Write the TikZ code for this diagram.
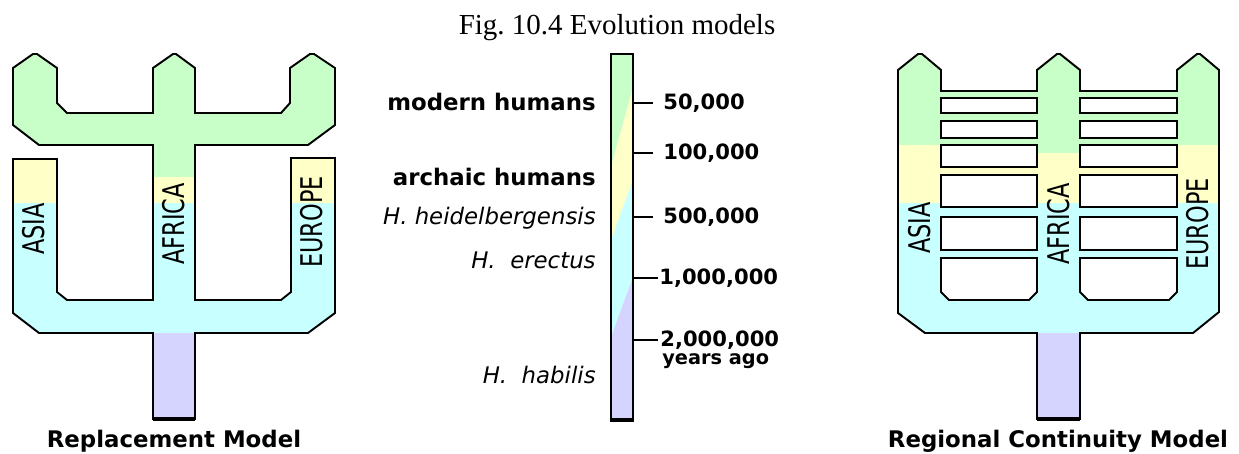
\documentclass[tikz,border=0pt]{standalone}
\usepackage{fontspec}
\usepackage{xcolor}
\usepackage{tikz}
\setmainfont{Liberation Serif}
\newfontfamily\pixfont{DejaVu Sans}
\newfontfamily\regionfont[FakeStretch=0.75]{DejaVu Sans}
\definecolor{eragreen}{RGB}{200, 255, 200}
\definecolor{erayellow}{RGB}{255, 255, 200}
\definecolor{eracyan}{RGB}{200, 255, 255}
\definecolor{eraviolet}{RGB}{212, 212, 255}

\begin{document}
\begin{tikzpicture}[x=0.02cm, y=-0.02cm,
    outline/.style={draw=black, line width=1.1pt, line join=miter},
    hole/.style={fill=white, draw=black, line width=1.1pt},
    region/.style={font=\regionfont\fontsize{17}{17}\selectfont, rotate=90, inner sep=0pt},
    era/.style={font=\pixfont\bfseries\fontsize{13}{13}\selectfont, anchor=east, inner sep=0pt},
    species/.style={font=\pixfont\itshape\fontsize{13}{13}\selectfont, anchor=east, inner sep=0pt},
    years/.style={font=\pixfont\bfseries\fontsize{12}{12}\selectfont, anchor=west, inner sep=0pt},
    modeltitle/.style={font=\pixfont\bfseries\fontsize{13}{13}\selectfont, anchor=base, inner sep=0pt}]
    \useasboundingbox (0,0) rectangle (1239,453);

    % Caption
    \node[font=\fontsize{16.5}{16.5}\selectfont, anchor=base, inner sep=0pt] (caption) at (617,34) {Fig.\ 10.4 Evolution models};

    % Replacement model (one outline, coloured by era)
    \draw[outline, path picture={
        \fill[eragreen] (0,40) rectangle (400,159);
        \fill[erayellow] (0,159) rectangle (400,203);
        \fill[eragreen] (153,145) rectangle (195,177);
        \fill[eracyan] (0,203) rectangle (400,333);
        \fill[eraviolet] (0,333) rectangle (400,425);
    }] (13,68) -- (33,54) -- (37,54) -- (57,68) -- (57,103) -- (67,113) -- (153,113) -- (153,68)
        -- (173,54) -- (176,54) -- (195,68) -- (195,113) -- (281,113) -- (290,103) -- (290,68)
        -- (310,54) -- (314,54) -- (335,68) -- (335,125) -- (308,145) -- (195,145) -- (195,300)
        -- (281,300) -- (291,292) -- (291,158) -- (335,158) -- (335,313) -- (308,333) -- (195,333)
        -- (195,419) -- (153,419) -- (153,333) -- (39,333) -- (13,313) -- (13,159) -- (57,159)
        -- (57,292) -- (67,300) -- (153,300) -- (153,145) -- (39,145) -- (13,125) -- cycle;
    \draw[line width=2pt] (153,419) -- (195,419);

    \node[region] (asiaL) at (34,229) {ASIA};
    \node[region] (africaL) at (174,224) {AFRICA};
    \node[region] (europeL) at (312,222) {EUROPE};
    \node[modeltitle] (replTitle) at (174,447) {Replacement Model};

    % Time scale
    \fill[eragreen] (611,54) -- (633,54) -- (633,88) -- (611,167) -- cycle;
    \fill[erayellow] (611,167) -- (633,88) -- (633,180) -- (611,240) -- cycle;
    \fill[eracyan] (611,240) -- (633,180) -- (633,277) -- (611,337) -- cycle;
    \fill[eraviolet] (611,337) -- (633,277) -- (633,419) -- (611,419) -- cycle;
    \node[draw, line width=1.1pt, minimum width=0.44cm, minimum height=7.3cm, inner sep=0pt] (bar) at (622,236.5) {};
    \draw[line width=2pt] (bar.south west) -- (bar.south east);

    \node[era] (modern) at (596,102) {modern humans};
    \node[era] (archaic) at (596,177) {archaic humans};
    \node[species] (heidel) at (596,218) {H. heidelbergensis};
    \node[species] (erectus) at (596,260) {H.\ \ erectus};
    \node[species] (habilis) at (596,375) {H.\ \ habilis};

    \node[years] (t50k) at (663,103) {50,000};
    \node[years] (t100k) at (663,153) {100,000};
    \node[years] (t500k) at (663,217) {500,000};
    \node[years] (t1m) at (659,278) {1,000,000};
    \node[years] (t2m) at (660,340) {2,000,000};
    \node[years, font=\pixfont\bfseries\fontsize{11}{11}\selectfont] (ago) at (662,361) {years ago};

    \draw[line width=1.1pt] (bar.east |- t50k.west) -- ([xshift=-0.2cm]t50k.west);
    \draw[line width=1.1pt] (bar.east |- t100k.west) -- ([xshift=-0.2cm]t100k.west);
    \draw[line width=1.1pt] (bar.east |- t500k.west) -- ([xshift=-0.2cm]t500k.west);
    \draw[line width=1.6pt] (bar.east |- t1m.west) -- ([xshift=-0.02cm]t1m.west);
    \draw[line width=1.1pt] (bar.east |- t2m.west) -- ([xshift=-0.04cm]t2m.west);

    % Regional continuity model
    \draw[outline, path picture={
        \fill[eragreen] (880,40) rectangle (1230,145);
        \fill[erayellow] (880,145) rectangle (1230,203);
        \fill[eragreen] (1037,145) rectangle (1080,153);
        \fill[eracyan] (880,203) rectangle (1230,333);
        \fill[eraviolet] (880,333) rectangle (1230,425);
    }] (898,70) -- (918,54) -- (922,54) -- (941,70) -- (941,91) -- (1037,91) -- (1037,70)
        -- (1057,54) -- (1060,54) -- (1080,70) -- (1080,91) -- (1177,91) -- (1177,70)
        -- (1197,54) -- (1200,54) -- (1219,70) -- (1219,312) -- (1193,333) -- (1080,333)
        -- (1080,419) -- (1037,419) -- (1037,333) -- (925,333) -- (898,313) -- cycle;
    \draw[line width=2pt] (1037,419) -- (1080,419);
    \draw[line width=1.6pt] (941,91) -- (1037,91) (1080,91) -- (1177,91);

    % gene flow rungs (white gaps between them)
    \draw[hole] (941,98) rectangle (1037,113);
    \draw[hole] (941,121) rectangle (1037,138);
    \draw[hole] (941,145) rectangle (1037,167);
    \draw[hole] (941,175) rectangle (1037,207);
    \draw[hole] (941,217) rectangle (1037,250);
    \draw[hole] (941,258) -- (941,292) -- (949,300) -- (1029,300) -- (1037,292) -- (1037,258) -- cycle;
    \draw[hole] (1080,98) rectangle (1177,113);
    \draw[hole] (1080,121) rectangle (1177,138);
    \draw[hole] (1080,145) rectangle (1177,167);
    \draw[hole] (1080,175) rectangle (1177,207);
    \draw[hole] (1080,217) rectangle (1177,250);
    \draw[hole] (1080,258) -- (1080,292) -- (1088,300) -- (1169,300) -- (1177,292) -- (1177,258) -- cycle;

    \node[region] (asiaR) at (919.5,228) {ASIA};
    \node[region] (africaR) at (1059,224) {AFRICA};
    \node[region] (europeR) at (1197.5,224) {EUROPE};
    \node[modeltitle] (contTitle) at (1058,447) {Regional Continuity Model};
\end{tikzpicture}
\end{document}
